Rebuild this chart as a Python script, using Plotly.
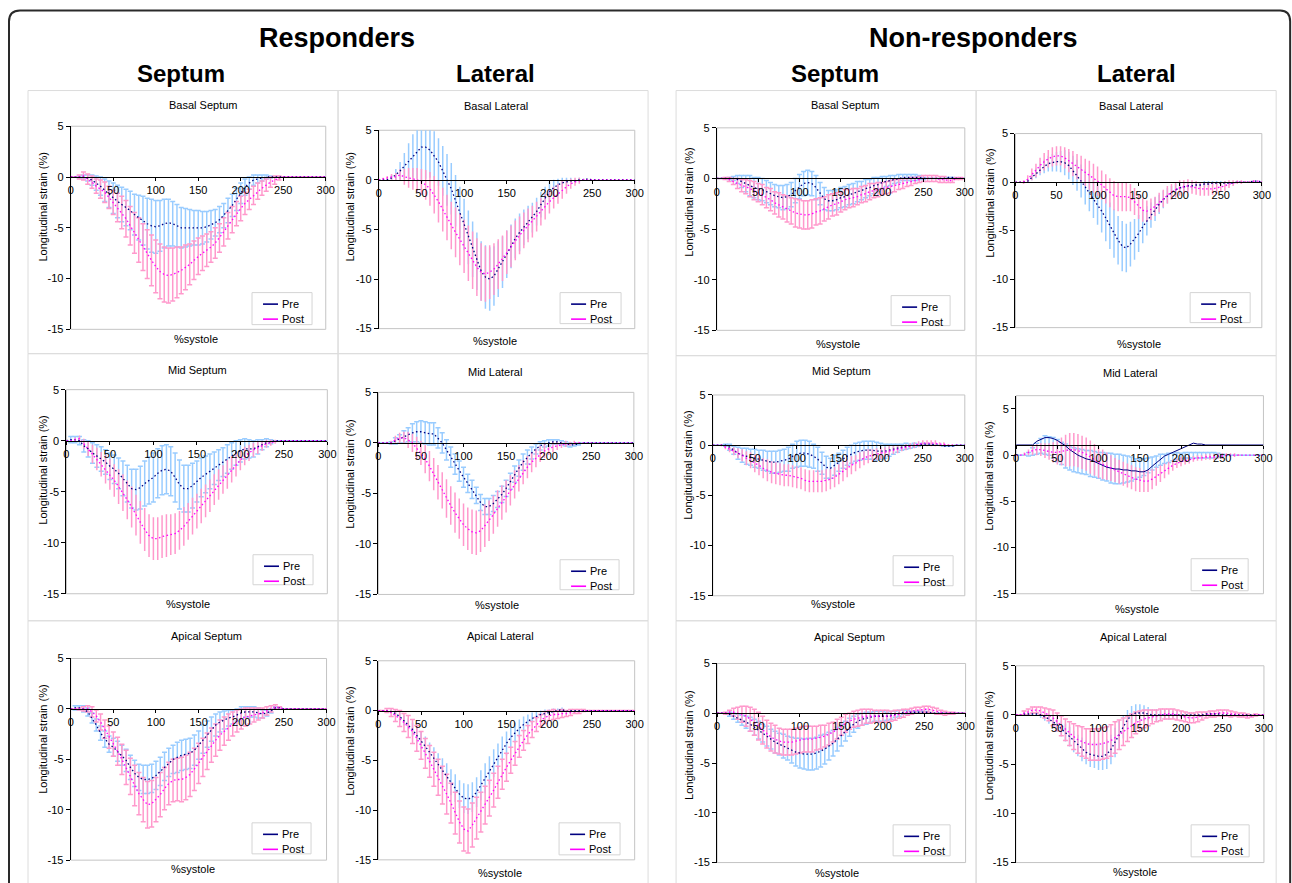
import plotly.graph_objects as go

# ---------------- data (x = 0,5,...,300 %systole) ----------------
X = list(range(0, 301, 5))
XTICKS = [0, 50, 100, 150, 200, 250, 300]
YTICKS = [-15, -10, -5, 0, 5]
YTICKTEXT = ["-15", "-10", "-5", "0", "5"]

# Responders - Basal Septum
R_BS_PRE_MEAN = [0,0,0,0,-0.1,-0.3,-0.6,-0.9,-1.3,-1.7,
 -2.1,-2.4,-2.7,-3.0,-3.3,-3.7,-4.0,-4.3,-4.6,-4.8,
 -4.9,-4.8,-4.6,-4.5,-4.6,-4.8,-5.0,-5.0,-5.0,-5.0,
 -5.0,-5.0,-4.9,-4.7,-4.5,-4.2,-3.8,-3.3,-2.8,-2.2,
 -1.6,-1.0,-0.6,-0.3,-0.2,-0.1,0,0,0,0,
 0,0,0,0,0,0,0,0,0,0,0]
R_BS_PRE_SD = [0,0,0.1,0.2,0.3,0.5,0.7,0.9,1.1,1.3,
 1.5,1.6,1.7,1.8,1.9,2.0,2.2,2.4,2.5,2.6,
 2.6,2.5,2.4,2.3,2.2,2.1,2.0,1.9,1.8,1.7,
 1.7,1.6,1.5,1.4,1.3,1.3,1.2,1.2,1.1,1.1,
 1.0,0.8,0.6,0.5,0.4,0.3,0.2,0.1,0,0,
 0,0,0,0,0,0,0,0,0,0,0]
R_BS_POST_MEAN = [0,0,0,0.1,-0.2,-0.5,-0.9,-1.2,-1.5,-2.0,
 -2.5,-3.0,-3.5,-4.1,-4.8,-5.5,-6.2,-6.9,-7.6,-8.2,
 -8.8,-9.3,-9.6,-9.7,-9.6,-9.4,-9.2,-8.9,-8.6,-8.2,
 -7.8,-7.5,-7.2,-6.9,-6.5,-6.0,-5.4,-4.8,-4.2,-3.6,
 -3.1,-2.6,-2.2,-1.8,-1.4,-1.1,-0.8,-0.5,-0.3,-0.1,
 0,0,0,0,0,0,0,0,0,0,0]
R_BS_POST_SD = [0,0,0.2,0.4,0.5,0.6,0.7,0.9,1.0,1.1,
 1.2,1.4,1.6,1.8,1.9,2.0,2.2,2.3,2.4,2.5,
 2.6,2.7,2.7,2.7,2.6,2.5,2.3,2.2,2.0,1.9,
 1.8,1.7,1.6,1.5,1.5,1.4,1.4,1.3,1.3,1.2,
 1.2,1.1,1.0,0.9,0.8,0.7,0.6,0.5,0.4,0.2,
 0,0,0,0,0,0,0,0,0,0,0]

# Responders - Basal Lateral
R_BL_PRE_MEAN = [0,0,0,0.2,0.5,0.9,1.4,1.9,2.4,2.9,
 3.3,3.3,3.0,2.4,1.8,0.9,0,-0.9,-2.1,-3.3,
 -4.5,-5.8,-7.0,-8.2,-9.2,-9.8,-10.0,-9.7,-9.0,-8.3,
 -7.5,-6.7,-5.9,-5.3,-4.8,-4.3,-3.8,-3.2,-2.5,-1.8,
 -1.2,-0.8,-0.5,-0.3,-0.2,-0.1,-0.1,0,0,0.1,
 0,0,0,0,0,0,0,0,0,0,0]
R_BL_PRE_SD = [0,0,0.1,0.3,0.6,0.9,1.3,1.8,2.2,2.8,
 3.5,3.2,2.8,2.5,2.4,2.5,2.6,2.6,2.6,2.6,
 2.6,2.7,2.8,2.9,3.0,3.2,3.2,3.0,2.8,2.6,
 2.4,2.2,2.0,1.9,1.8,1.7,1.5,1.4,1.3,1.1,
 1.0,0.8,0.6,0.5,0.4,0.3,0.2,0.2,0.1,0,
 0,0,0,0,0,0,0,0,0,0,0]
R_BL_POST_MEAN = [0,0.1,0.2,0.3,0.3,0.5,0.3,0.2,0.1,0,
 -0.2,-0.5,-0.9,-1.5,-2.2,-3.0,-3.8,-4.6,-5.3,-6.0,
 -6.7,-7.4,-8.1,-8.8,-9.3,-9.5,-9.3,-9.0,-8.5,-7.9,
 -7.3,-6.7,-6.1,-5.6,-5.1,-4.6,-4.2,-3.7,-3.2,-2.7,
 -2.2,-1.8,-1.4,-1.0,-0.7,-0.4,-0.2,-0.1,0,0,
 0,0,0,0,0,0,0,0,0,0,0]
R_BL_POST_SD = [0,0.1,0.2,0.3,0.4,0.6,0.8,1.0,1.1,1.2,
 1.3,1.5,1.7,1.9,2.1,2.2,2.3,2.4,2.5,2.6,
 2.7,2.8,2.9,2.9,2.9,2.8,2.7,2.6,2.5,2.3,
 2.2,2.1,2.0,1.9,1.8,1.7,1.6,1.5,1.4,1.3,
 1.2,1.1,1.0,0.9,0.7,0.5,0.4,0.3,0.1,0,
 0,0,0,0,0,0,0,0,0,0,0]

# Responders - Mid Septum
R_MS_PRE_MEAN = [0,0.1,0.1,0,-0.5,-0.8,-1.2,-1.5,-1.8,-2.1,
 -2.5,-2.8,-3.2,-3.7,-4.2,-4.7,-4.8,-4.6,-4.2,-3.9,
 -3.6,-3.2,-2.9,-2.8,-3.0,-3.6,-4.3,-4.7,-4.7,-4.4,
 -4.0,-3.6,-3.3,-3.0,-2.7,-2.4,-2.1,-1.8,-1.5,-1.2,
 -1.0,-0.8,-0.8,-0.8,-0.6,-0.4,-0.2,-0.1,0,0,
 0,0,0,0,0,0,0,0,0,0,0]
R_MS_PRE_SD = [0,0.3,0.3,0.4,0.6,0.8,1.0,1.1,1.2,1.2,
 1.3,1.4,1.5,1.7,1.8,1.9,2.0,2.1,2.2,2.3,
 2.4,2.4,2.4,2.4,2.4,2.4,2.4,2.3,2.3,2.2,
 2.0,1.9,1.8,1.7,1.6,1.5,1.4,1.4,1.3,1.2,
 1.1,1.0,0.9,0.8,0.7,0.5,0.4,0.2,0,0,
 0,0,0,0,0,0,0,0,0,0,0]
R_MS_POST_MEAN = [0,0,0.1,0.2,-0.3,-0.8,-1.3,-1.8,-2.3,-2.8,
 -3.3,-3.9,-4.5,-5.1,-5.8,-6.5,-7.3,-8.0,-8.7,-9.3,
 -9.6,-9.6,-9.4,-9.3,-9.2,-9.1,-8.8,-8.4,-7.9,-7.4,
 -6.9,-6.4,-5.9,-5.4,-4.8,-4.3,-3.8,-3.3,-2.8,-2.3,
 -1.9,-1.5,-1.2,-0.9,-0.7,-0.5,-0.3,-0.2,-0.1,0,
 0,0,0,0,0,0,0,0,0,0,0]
R_MS_POST_SD = [0,0,0.2,0.3,0.5,0.7,0.9,1.1,1.2,1.4,
 1.5,1.6,1.7,1.8,1.9,2.0,2.0,2.1,2.1,2.1,
 2.1,2.1,2.1,2.1,2.0,2.0,1.9,1.9,1.8,1.8,
 1.7,1.7,1.6,1.6,1.5,1.5,1.4,1.4,1.3,1.2,
 1.0,0.9,0.8,0.7,0.6,0.5,0.4,0.3,0.2,0,
 0,0,0,0,0,0,0,0,0,0,0]

# Responders - Mid Lateral
R_ML_PRE_MEAN = [0,0,0,0,0.2,0.4,0.6,0.8,1.0,1.1,
 1.1,1.0,0.9,0.9,0.5,0,-0.7,-1.4,-2.1,-2.8,
 -3.4,-4.0,-4.6,-5.2,-5.9,-6.3,-6.3,-6.0,-5.6,-5.1,
 -4.5,-3.8,-3.1,-2.5,-1.9,-1.4,-1.0,-0.6,-0.3,-0.1,
 0,0.1,0.1,0,-0.1,-0.2,-0.2,-0.1,0,0,
 0,0,0,0,0,0,0,0,0,0,0]
R_ML_PRE_SD = [0,0,0,0.1,0.3,0.4,0.6,0.7,0.9,1.0,
 1.1,1.1,1.1,1.1,1.0,1.0,1.0,1.0,1.0,1.0,
 1.0,0.9,0.9,0.8,0.8,0.8,0.8,0.8,0.8,0.8,
 0.8,0.8,0.8,0.8,0.8,0.7,0.6,0.5,0.4,0.3,
 0.3,0.2,0.2,0.2,0.2,0.2,0.1,0.1,0,0,
 0,0,0,0,0,0,0,0,0,0,0]
R_ML_POST_MEAN = [0,0,0,0,0.3,0.5,0.5,0.3,0,-0.5,
 -1.0,-1.6,-2.3,-3.1,-3.9,-4.7,-5.5,-6.2,-6.9,-7.5,
 -8.1,-8.5,-8.8,-8.9,-8.7,-8.2,-7.7,-7.1,-6.5,-5.9,
 -5.3,-4.7,-4.1,-3.5,-2.9,-2.4,-1.9,-1.5,-1.1,-0.8,
 -0.6,-0.4,-0.3,-0.2,-0.1,-0.1,0,0,0,0,
 0,0,0,0,0,0,0,0,0,0,0]
R_ML_POST_SD = [0,0,0.1,0.2,0.4,0.5,0.6,0.8,0.9,1.1,
 1.2,1.4,1.5,1.6,1.7,1.8,1.9,1.9,2.0,2.0,
 2.1,2.1,2.2,2.2,2.1,2.1,2.0,1.9,1.8,1.7,
 1.6,1.5,1.4,1.3,1.2,1.1,1.0,0.9,0.8,0.7,
 0.6,0.5,0.4,0.3,0.3,0.2,0.2,0.1,0,0,
 0,0,0,0,0,0,0,0,0,0,0]

# Responders - Apical Septum
R_AS_PRE_MEAN = [0,0.1,0.1,0,-0.3,-0.9,-1.6,-2.4,-3.0,-3.5,
 -3.8,-4.2,-4.6,-5.1,-5.8,-6.4,-6.8,-7.0,-7.0,-6.9,
 -6.6,-6.2,-5.7,-5.3,-5.0,-4.8,-4.6,-4.5,-4.4,-4.1,
 -3.6,-3.0,-2.5,-2.0,-1.6,-1.3,-1.1,-0.9,-0.8,-0.6,
 -0.4,-0.3,-0.3,-0.3,-0.4,-0.5,-0.4,-0.2,0.1,0.1,
 0,0,0,0,0,0,0,0,0,0,0]
R_AS_PRE_SD = [0,0.2,0.2,0.3,0.4,0.5,0.6,0.7,0.8,0.8,
 0.9,1.0,1.0,1.1,1.2,1.3,1.3,1.4,1.4,1.4,
 1.4,1.4,1.4,1.4,1.4,1.5,1.5,1.5,1.5,1.5,
 1.4,1.4,1.3,1.2,1.1,1.0,0.9,0.8,0.7,0.6,
 0.6,0.5,0.5,0.5,0.5,0.4,0.3,0.2,0.1,0,
 0,0,0,0,0,0,0,0,0,0,0]
R_AS_POST_MEAN = [0,0,0,0,0,-0.3,-0.7,-1.3,-2.0,-2.8,
 -3.5,-4.2,-5.0,-5.8,-6.7,-7.6,-8.4,-9.0,-9.5,-9.4,
 -9.0,-8.5,-7.9,-7.4,-7.1,-7.0,-7.0,-6.8,-6.5,-6.0,
 -5.4,-4.8,-4.2,-3.6,-3.1,-2.6,-2.2,-1.8,-1.5,-1.2,
 -1.0,-0.8,-0.7,-0.6,-0.5,-0.4,-0.2,0,0.2,0.1,
 0,0,0,0,0,0,0,0,0,0,0]
R_AS_POST_SD = [0,0,0.1,0.2,0.3,0.5,0.6,0.8,0.9,1.1,
 1.2,1.4,1.5,1.7,1.8,2.0,2.1,2.2,2.3,2.3,
 2.2,2.2,2.1,2.1,2.1,2.1,2.2,2.2,2.2,2.1,
 2.0,1.9,1.8,1.7,1.6,1.5,1.4,1.3,1.2,1.1,
 1.0,0.9,0.8,0.7,0.6,0.5,0.4,0.3,0.2,0.1,
 0,0,0,0,0,0,0,0,0,0,0]

# Responders - Apical Lateral
R_AL_PRE_MEAN = [0,0,0,-0.1,-0.3,-0.6,-1.0,-1.4,-1.9,-2.5,
 -3.0,-3.6,-4.2,-4.8,-5.4,-6.0,-6.6,-7.2,-7.8,-8.4,
 -8.8,-8.9,-8.7,-8.2,-7.5,-6.8,-6.0,-5.3,-4.6,-3.9,
 -3.3,-2.7,-2.2,-1.8,-1.4,-1.1,-0.8,-0.6,-0.4,-0.3,
 -0.2,-0.1,0,0.1,-0.1,0,0,0,0,0,
 0,0,0,0,0,0,0,0,0,0,0]
R_AL_PRE_SD = [0,0,0.1,0.2,0.3,0.4,0.5,0.6,0.7,0.8,
 0.9,1.0,1.0,1.1,1.1,1.2,1.3,1.3,1.4,1.4,
 1.5,1.5,1.5,1.5,1.5,1.5,1.4,1.4,1.3,1.3,
 1.2,1.1,1.0,0.9,0.8,0.7,0.6,0.5,0.4,0.4,
 0.3,0.3,0.2,0.2,0.1,0.1,0,0,0,0,
 0,0,0,0,0,0,0,0,0,0,0]
R_AL_POST_MEAN = [0,0,0,-0.2,-0.5,-0.8,-1.2,-1.6,-2.1,-2.8,
 -3.5,-4.3,-5.1,-5.9,-6.7,-7.5,-8.4,-9.3,-10.3,-11.2,
 -11.9,-12.1,-11.5,-10.8,-10.2,-9.5,-8.8,-8.0,-7.2,-6.4,
 -5.7,-5.0,-4.3,-3.6,-3.0,-2.4,-1.9,-1.4,-1.0,-0.7,
 -0.5,-0.4,-0.4,-0.3,-0.3,-0.2,-0.1,-0.1,0,0,
 0,0,0,0,0,0,0,0,0,0,0]
R_AL_POST_SD = [0,0,0.2,0.4,0.6,0.8,0.9,1.1,1.2,1.3,
 1.4,1.5,1.6,1.7,1.8,1.9,2.0,2.0,2.1,2.1,
 2.2,2.2,2.2,2.1,2.0,1.9,1.8,1.7,1.6,1.5,
 1.4,1.3,1.2,1.1,1.0,0.9,0.8,0.7,0.6,0.6,
 0.5,0.5,0.4,0.4,0.3,0.3,0.2,0.2,0.1,0,
 0,0,0,0,0,0,0,0,0,0,0]

# Non-responders - Basal Septum
N_BS_PRE_MEAN = [0,0,0,0,0,-0.1,-0.3,-0.5,-0.7,-0.9,
 -1.0,-1.1,-1.3,-1.5,-1.7,-1.8,-1.9,-1.8,-1.6,-1.2,
 -0.8,-0.5,-0.4,-0.5,-0.9,-1.5,-2.0,-2.2,-2.2,-2.1,
 -1.9,-1.8,-1.6,-1.5,-1.3,-1.2,-1.0,-0.9,-0.7,-0.6,
 -0.4,-0.3,-0.2,-0.1,0,0.1,0.1,0.1,0.1,0.1,
 0,0,0,0,0,0,0.1,0.1,0,0,0]
N_BS_PRE_SD = [0,0,0,0.1,0.2,0.4,0.6,0.8,1.0,1.0,
 1.1,1.1,1.1,1.1,1.1,1.1,1.2,1.2,1.2,1.2,
 1.2,1.2,1.2,1.2,1.2,1.1,1.1,1.0,1.0,1.0,
 1.0,1.0,1.0,1.0,1.0,0.9,0.9,0.8,0.8,0.7,
 0.6,0.5,0.5,0.4,0.4,0.3,0.3,0.3,0.3,0.2,
 0.1,0,0,0,0,0,0,0,0,0,0]
N_BS_POST_MEAN = [0,0,0,-0.1,-0.3,-0.5,-0.7,-0.8,-1.0,-1.2,
 -1.4,-1.6,-1.9,-2.1,-2.4,-2.6,-2.8,-3.0,-3.2,-3.4,
 -3.5,-3.6,-3.6,-3.5,-3.3,-3.2,-3.0,-2.8,-2.6,-2.5,
 -2.3,-2.1,-2.0,-1.9,-1.8,-1.6,-1.5,-1.3,-1.2,-1.1,
 -1.0,-0.9,-0.8,-0.7,-0.6,-0.5,-0.4,-0.3,-0.2,-0.1,
 0,0,0,0,-0.1,-0.1,-0.2,-0.2,0,0,0]
N_BS_POST_SD = [0,0,0.1,0.2,0.3,0.5,0.6,0.7,0.8,0.9,
 0.9,1.0,1.0,1.1,1.1,1.2,1.2,1.3,1.3,1.4,
 1.4,1.4,1.4,1.4,1.3,1.3,1.2,1.2,1.1,1.1,
 1.0,1.0,0.9,0.9,0.8,0.8,0.8,0.8,0.7,0.7,
 0.6,0.6,0.6,0.6,0.5,0.5,0.4,0.4,0.3,0.3,
 0.3,0.3,0.3,0.3,0.3,0.3,0.2,0.2,0.1,0.1,0]

# Non-responders - Basal Lateral
N_BL_PRE_MEAN = [0,0,0,0.1,0.5,0.9,1.3,1.6,1.9,2.0,
 2.1,2.1,2.0,1.7,1.2,0.7,0.1,-0.5,-1.1,-1.7,
 -2.3,-3.0,-3.7,-4.5,-5.3,-6.0,-6.6,-6.8,-6.4,-5.9,
 -5.3,-4.6,-4.0,-3.4,-2.8,-2.3,-1.8,-1.4,-1.1,-0.8,
 -0.6,-0.5,-0.4,-0.4,-0.3,-0.3,-0.2,-0.2,-0.1,-0.1,
 -0.1,-0.1,-0.1,-0.1,0,0,0,0,0.1,0.1,0]
N_BL_PRE_SD = [0,0,0,0.2,0.3,0.5,0.6,0.7,0.8,0.9,
 1.0,1.1,1.3,1.4,1.5,1.6,1.7,1.8,1.9,2.0,
 2.1,2.2,2.4,2.4,2.5,2.5,2.6,2.5,2.3,2.1,
 1.9,1.7,1.5,1.3,1.2,1.0,0.9,0.8,0.7,0.6,
 0.5,0.5,0.4,0.4,0.3,0.3,0.3,0.3,0.2,0.2,
 0.2,0.2,0.1,0.1,0.1,0,0,0,0,0,0]
N_BL_POST_MEAN = [0,0,0,0.3,0.8,1.2,1.7,2.1,2.4,2.6,
 2.7,2.7,2.5,2.2,1.9,1.6,1.3,1.0,0.7,0.4,
 0.1,-0.3,-0.7,-1.1,-1.4,-1.5,-1.5,-1.5,-1.6,-2.0,
 -2.5,-2.9,-3.0,-2.8,-2.5,-2.1,-1.7,-1.3,-1.0,-0.8,
 -0.6,-0.5,-0.4,-0.5,-0.6,-0.7,-0.7,-0.7,-0.7,-0.6,
 -0.5,-0.4,-0.2,-0.1,0,0,0,0,0.1,0.1,0]
N_BL_POST_SD = [0,0,0.2,0.4,0.6,0.7,0.8,0.9,0.9,1.0,
 1.0,1.0,1.1,1.2,1.3,1.3,1.4,1.4,1.5,1.5,
 1.5,1.5,1.5,1.5,1.5,1.5,1.5,1.5,1.4,1.4,
 1.3,1.2,1.1,1.1,1.0,1.0,0.9,0.9,0.8,0.8,
 0.8,0.7,0.7,0.7,0.7,0.7,0.7,0.7,0.6,0.6,
 0.5,0.5,0.4,0.3,0.2,0.2,0.1,0.1,0.1,0,0]

# Non-responders - Mid Septum
N_MS_PRE_MEAN = [0,0,0,0,-0.2,-0.5,-0.8,-1.0,-1.1,-1.2,
 -1.3,-1.4,-1.5,-1.6,-1.7,-1.7,-1.6,-1.5,-1.4,-1.1,
 -0.9,-0.8,-0.8,-0.9,-1.1,-1.4,-1.8,-2.2,-2.3,-2.0,
 -1.7,-1.4,-1.1,-0.9,-0.7,-0.6,-0.5,-0.5,-0.5,-0.6,
 -0.6,-0.6,-0.5,-0.4,-0.3,-0.2,-0.1,-0.1,0,0,
 0.1,0.1,0.1,0,0,-0.1,-0.1,-0.1,0,0,0]
N_MS_PRE_SD = [0,0,0,0.1,0.3,0.4,0.6,0.7,0.8,0.8,
 0.9,0.9,1.0,1.0,1.1,1.1,1.1,1.1,1.2,1.2,
 1.3,1.3,1.3,1.3,1.2,1.2,1.1,1.1,1.0,1.0,
 0.9,0.9,0.9,0.9,0.9,0.9,0.9,0.9,0.9,0.9,
 0.8,0.7,0.6,0.5,0.4,0.3,0.3,0.2,0.2,0.1,
 0.1,0,0,0,0,0,0,0,0,0,0]
N_MS_POST_MEAN = [0,0,0,-0.2,-0.4,-0.6,-0.8,-1.0,-1.3,-1.5,
 -1.8,-2.0,-2.3,-2.5,-2.7,-2.8,-2.9,-3.0,-3.0,-3.1,
 -3.2,-3.3,-3.5,-3.6,-3.6,-3.6,-3.6,-3.5,-3.4,-3.2,
 -2.9,-2.6,-2.3,-2.0,-1.8,-1.5,-1.3,-1.1,-1.0,-0.9,
 -0.8,-0.7,-0.6,-0.5,-0.4,-0.3,-0.2,-0.1,0,0.1,
 0.2,0.2,0.2,0.2,0.1,0.1,0,0,0,0,0]
N_MS_POST_SD = [0,0,0.1,0.2,0.3,0.4,0.5,0.6,0.7,0.8,
 0.9,1.0,1.0,1.1,1.1,1.1,1.1,1.1,1.1,1.1,
 1.1,1.1,1.1,1.1,1.1,1.1,1.1,1.1,1.0,1.0,
 1.0,1.0,0.9,0.9,0.8,0.8,0.7,0.7,0.6,0.6,
 0.6,0.5,0.5,0.4,0.4,0.3,0.3,0.3,0.3,0.3,
 0.3,0.3,0.3,0.3,0.2,0.2,0.1,0.1,0,0,0]

# Non-responders - Mid Lateral (Pre curve drawn shifted; bars centred separately)
N_ML_PRE_MEAN = [1.1,1.1,1.1,1.1,1.1,1.5,1.7,1.9,1.9,1.8,
 1.6,1.3,1.0,0.6,0.3,0,-0.2,-0.4,-0.5,-0.7,
 -0.9,-1.1,-1.3,-1.4,-1.5,-1.5,-1.6,-1.6,-1.7,-1.7,
 -1.8,-1.8,-1.6,-1.2,-0.8,-0.4,-0.1,0.1,0.3,0.5,
 0.7,0.9,1.1,1.3,1.2,1.2,1.1,1.1,1.1,1.1,
 1.1,1.1,1.1,1.1,1.1,1.1,1.1,1.1,1.1,1.1,1.1]
N_ML_PRE_BAR_CENTER = [0,0,0,0.1,0.4,0.7,1.0,1.1,1.0,0.8,
 0.5,0.2,-0.1,-0.3,-0.5,-0.6,-0.7,-0.8,-0.9,-1.0,
 -1.1,-1.2,-1.3,-1.4,-1.5,-1.5,-1.5,-1.5,-1.5,-1.5,
 -1.4,-1.3,-1.1,-0.9,-0.7,-0.5,-0.4,-0.3,-0.2,-0.1,
 -0.1,0,0,0,0,0,0,0,0,0,
 0,0,0,0,0,0,0,0,0,0,0]
N_ML_PRE_SD = [0,0,0,0.2,0.4,0.6,0.8,1.0,1.0,1.1,
 1.2,1.2,1.3,1.3,1.3,1.3,1.3,1.3,1.4,1.4,
 1.4,1.5,1.5,1.6,1.6,1.6,1.5,1.4,1.3,1.1,
 1.0,0.9,0.8,0.7,0.6,0.6,0.5,0.5,0.4,0.4,
 0.3,0.3,0.3,0.3,0.3,0.3,0.3,0.3,0.3,0.2,
 0.1,0,0,0,0,0,0,0,0,0,0]
N_ML_POST_MEAN = [0,0,0.1,0.3,0.5,0.6,0.6,0.5,0.4,0.3,
 0.3,0.4,0.5,0.6,0.6,0.5,0.3,0.1,-0.2,-0.5,
 -0.8,-1.0,-1.2,-1.4,-1.6,-1.8,-2.0,-2.2,-2.4,-2.6,
 -2.7,-2.8,-2.8,-2.6,-2.3,-2.0,-1.7,-1.4,-1.1,-0.9,
 -0.7,-0.6,-0.5,-0.4,-0.3,-0.3,-0.2,-0.2,-0.2,-0.1,
 -0.1,0,0,0,0,0,0,0,0,0,0]
N_ML_POST_SD = [0,0,0.2,0.3,0.5,0.6,0.7,0.8,0.9,1.1,
 1.3,1.5,1.7,1.8,1.8,1.8,1.8,1.8,1.8,1.7,
 1.7,1.6,1.5,1.4,1.3,1.3,1.3,1.3,1.3,1.3,
 1.3,1.2,1.2,1.1,1.0,0.9,0.8,0.7,0.6,0.5,
 0.5,0.4,0.4,0.3,0.3,0.3,0.3,0.3,0.3,0.3,
 0.3,0.2,0.2,0.2,0.1,0,0,0,0,0,0]

# Non-responders - Apical Septum
N_AS_PRE_MEAN = [0,0,0,-0.1,-0.3,-0.5,-0.7,-0.9,-1.1,-1.4,
 -1.7,-2.0,-2.3,-2.6,-2.9,-3.1,-3.3,-3.5,-3.7,-3.9,
 -4.0,-4.1,-4.1,-4.1,-4.0,-3.8,-3.6,-3.3,-3.0,-2.6,
 -2.2,-1.8,-1.4,-1.1,-0.8,-0.6,-0.5,-0.4,-0.3,-0.3,
 -0.3,-0.3,-0.2,-0.1,0,0.1,0.1,0.1,0.1,0.1,
 0.1,0.1,0,0,0,0,0,0,0,0,0]
N_AS_PRE_SD = [0,0,0,0.2,0.3,0.4,0.5,0.6,0.7,0.8,
 0.9,0.9,1.0,1.0,1.1,1.1,1.2,1.2,1.3,1.4,
 1.5,1.5,1.6,1.6,1.6,1.6,1.5,1.4,1.3,1.2,
 1.1,1.0,0.9,0.8,0.7,0.6,0.6,0.5,0.5,0.5,
 0.5,0.4,0.4,0.3,0.3,0.2,0.2,0.1,0.1,0.1,
 0.1,0,0,0,0,0,0,0,0,0,0]
N_AS_POST_MEAN = [0,0,0,0.1,0.1,0,-0.1,-0.3,-0.6,-0.9,
 -1.3,-1.7,-2.1,-2.4,-2.6,-2.8,-2.9,-2.9,-2.9,-2.8,
 -2.7,-2.6,-2.6,-2.6,-2.5,-2.4,-2.3,-2.1,-1.9,-1.6,
 -1.3,-1.0,-0.8,-0.6,-0.5,-0.4,-0.3,-0.3,-0.3,-0.3,
 -0.3,-0.3,-0.3,-0.2,-0.1,0,0.1,0.2,0.3,0.3,
 0.4,0.4,0.3,0.2,0.1,0,0,0,0,0,0]
N_AS_POST_SD = [0,0,0.1,0.2,0.4,0.6,0.8,1.0,1.2,1.3,
 1.4,1.4,1.4,1.4,1.4,1.3,1.3,1.3,1.3,1.3,
 1.3,1.3,1.3,1.3,1.2,1.2,1.1,1.1,1.0,1.0,
 0.9,0.9,0.8,0.8,0.8,0.8,0.7,0.7,0.6,0.6,
 0.6,0.6,0.5,0.5,0.4,0.4,0.3,0.3,0.3,0.3,
 0.3,0.3,0.3,0.3,0.2,0.2,0.1,0.1,0,0,0]

# Non-responders - Apical Lateral
N_AL_PRE_MEAN = [0,0,0.1,0.1,0.1,0.1,0,-0.2,-0.4,-0.7,
 -1.0,-1.4,-1.8,-2.2,-2.7,-3.1,-3.5,-3.8,-4.0,-4.1,
 -4.2,-4.2,-4.0,-3.5,-2.8,-2.0,-1.2,-0.5,0,0.2,
 0.2,0.2,0.1,0,0,0,0,0,0,0,
 0,0,0,0,0,0,0.1,0.1,0.1,0.1,
 0,0,0,0,0,0,0,0,0,0,0]
N_AL_PRE_SD = [0,0,0.1,0.1,0.2,0.2,0.3,0.4,0.5,0.6,
 0.7,0.8,0.9,1.0,1.1,1.1,1.2,1.2,1.3,1.3,
 1.4,1.4,1.5,1.5,1.5,1.4,1.2,1.0,0.9,0.9,
 0.9,0.8,0.7,0.6,0.6,0.5,0.5,0.5,0.4,0.4,
 0.3,0.3,0.3,0.3,0.2,0.2,0.2,0.2,0.1,0.1,
 0.1,0,0,0,0,0,0,0,0,0,0]
N_AL_POST_MEAN = [0,0,0.2,0.3,0.5,0.5,0.4,0.2,0,-0.3,
 -0.7,-1.1,-1.5,-1.9,-2.2,-2.5,-2.7,-2.9,-3.0,-3.0,
 -3.0,-2.9,-2.8,-2.6,-2.3,-2.0,-1.7,-1.4,-1.1,-0.8,
 -0.6,-0.4,-0.3,-0.2,-0.1,0,0.1,0.1,0.1,0,
 -0.1,-0.2,-0.3,-0.3,-0.2,-0.1,0,0.1,0.1,0.2,
 0.2,0.2,0.1,0.1,0,0,-0.1,-0.1,0,0,0]
N_AL_POST_SD = [0,0,0.2,0.3,0.3,0.3,0.4,0.5,0.6,0.8,
 0.9,1.0,1.1,1.2,1.3,1.4,1.5,1.5,1.6,1.6,
 1.6,1.6,1.6,1.6,1.6,1.5,1.4,1.3,1.2,1.1,
 1.0,0.9,0.8,0.7,0.6,0.6,0.5,0.5,0.5,0.5,
 0.5,0.5,0.5,0.5,0.5,0.4,0.3,0.3,0.3,0.3,
 0.3,0.3,0.3,0.2,0.2,0.2,0.2,0.1,0.1,0,0]

# ---------------- layout (pixel geometry of the target picture) ----------------
W, H = 1292, 883
# observed mapping of the capture: picture = S * page + O  -> invert it
SX, OX = 0.9906, 3.0
SY, OY = 0.986, 5.5
FONT = "Liberation Sans, Arial, sans-serif"
NAVY = "#000080"
MAGENTA = "#ff00ff"
BLUE_BAR = "#99ccff"
PINK_BAR = "#ff99cc"
DOT = "1.5px,2.5px"


def fx(px):
    return ((px - OX) / SX) / W


def fy(py):
    return 1 - ((py - OY) / SY) / H


PANELS = [
    dict(title="Basal Septum", plot=(70.7, 325.7, 125.7, 328.7), ymax=5, axis_at=0,
         t=(203, 104.7), xl=(196, 338), yl=(43, 207), leg=(252, 292, 312, 324), caps=(2.5, 2.5),
         pre=(R_BS_PRE_MEAN, R_BS_PRE_SD), post=(R_BS_POST_MEAN, R_BS_POST_SD)),
    dict(title="Basal Lateral", plot=(378.7, 634.7, 129.7, 328), ymax=5, axis_at=0,
         t=(496, 105), xl=(495, 340), yl=(350, 207), leg=(560, 292, 621, 323), caps=(0, 0),
         pre=(R_BL_PRE_MEAN, R_BL_PRE_SD), post=(R_BL_POST_MEAN, R_BL_POST_SD)),
    dict(title="Mid Septum", plot=(66.4, 327.3, 389, 593), ymax=5, axis_at=0,
         t=(197, 369.7), xl=(188, 603), yl=(43, 470), leg=(253, 554, 313, 584), caps=(2.5, 0),
         pre=(R_MS_PRE_MEAN, R_MS_PRE_SD), post=(R_MS_POST_MEAN, R_MS_POST_SD)),
    dict(title="Mid Lateral", plot=(378.3, 633.8, 391.7, 593.7), ymax=5, axis_at=0,
         t=(495, 371.3), xl=(497, 604), yl=(350, 474), leg=(560, 559, 619, 589), caps=(2.5, 0),
         pre=(R_ML_PRE_MEAN, R_ML_PRE_SD), post=(R_ML_POST_MEAN, R_ML_POST_SD)),
    dict(title="Apical Septum", plot=(70.7, 326.5, 657.7, 859.3), ymax=5, axis_at=0,
         t=(206, 635), xl=(193, 868), yl=(43, 739), leg=(252, 822, 311, 853), caps=(2.5, 2.5),
         pre=(R_AS_PRE_MEAN, R_AS_PRE_SD), post=(R_AS_POST_MEAN, R_AS_POST_SD)),
    dict(title="Apical Lateral", plot=(378.3, 634.6, 660, 859), ymax=5, axis_at=0,
         t=(500, 635), xl=(500, 872), yl=(350, 741), leg=(559, 822, 620, 854), caps=(0, 2.5),
         pre=(R_AL_PRE_MEAN, R_AL_PRE_SD), post=(R_AL_POST_MEAN, R_AL_POST_SD)),
    dict(title="Basal Septum", plot=(716.7, 964.7, 127.3, 329.7), ymax=5, axis_at=0,
         t=(845, 104.7), xl=(838, 343.5), yl=(689, 202), leg=(891, 295, 950, 325), caps=(2.5, 2.5),
         pre=(N_BS_PRE_MEAN, N_BS_PRE_SD), post=(N_BS_POST_MEAN, N_BS_POST_SD)),
    dict(title="Basal Lateral", plot=(1015.3, 1261.7, 133, 327), ymax=5, axis_at=0,
         t=(1131, 105), xl=(1139, 343), yl=(989, 203), leg=(1190, 292, 1250, 322), caps=(0, 0),
         pre=(N_BL_PRE_MEAN, N_BL_PRE_SD), post=(N_BL_POST_MEAN, N_BL_POST_SD)),
    dict(title="Mid Septum", plot=(712.7, 964.7, 394.3, 595), ymax=5, axis_at=0,
         t=(841, 370.7), xl=(833, 603), yl=(688, 465), leg=(893, 555, 953, 585), caps=(2.5, 0),
         pre=(N_MS_PRE_MEAN, N_MS_PRE_SD), post=(N_MS_POST_MEAN, N_MS_POST_SD)),
    dict(title="Mid Lateral", plot=(1016, 1263.3, 395, 593), ymax=6.44, axis_at=1.08,
         t=(1130, 372.3), xl=(1137, 608), yl=(989, 476), leg=(1191, 558, 1248, 590), caps=(2.5, 0),
         pre=(N_ML_PRE_MEAN, N_ML_PRE_SD), post=(N_ML_POST_MEAN, N_ML_POST_SD),
         pre_center=N_ML_PRE_BAR_CENTER, pre_solid=True),
    dict(title="Apical Septum", plot=(717, 965.5, 662.7, 861.7), ymax=5, axis_at=0,
         t=(849, 636), xl=(837, 872), yl=(689, 745), leg=(893, 824, 950, 855), caps=(2.5, 2.5),
         pre=(N_AS_PRE_MEAN, N_AS_PRE_SD), post=(N_AS_POST_MEAN, N_AS_POST_SD)),
    dict(title="Apical Lateral", plot=(1015.7, 1263.8, 665, 861.7), ymax=5, axis_at=0,
         t=(1133, 636), xl=(1135, 871), yl=(988.5, 745), leg=(1191, 824, 1249, 856), caps=(0, 2.5),
         pre=(N_AL_PRE_MEAN, N_AL_PRE_SD), post=(N_AL_POST_MEAN, N_AL_POST_SD)),
]

fig = go.Figure()
layout_axes = {}
shapes = []
annotations = []


def ann(text, x, y, size=11, angle=0, xanchor="center", bold=False):
    annotations.append(dict(
        text=f"<b>{text}</b>" if bold else text, x=fx(x), y=fy(y), xref="paper", yref="paper",
        showarrow=False, xanchor=xanchor, yanchor="middle", textangle=angle,
        font=dict(family=FONT, size=size, color="black")))


# cell borders
for (x0, x1) in [(28, 338), (338, 648)]:
    for (y0, y1) in [(90, 353), (353, 620), (620, 895)]:
        shapes.append(dict(type="rect", xref="paper", yref="paper", x0=fx(x0), x1=fx(x1),
                           y0=fy(y1), y1=fy(y0), line=dict(color="#dcdcdc", width=1), layer="below"))
for (x0, x1) in [(676, 976), (976, 1276)]:
    for (y0, y1) in [(90, 355), (355, 620), (620, 895)]:
        shapes.append(dict(type="rect", xref="paper", yref="paper", x0=fx(x0), x1=fx(x1),
                           y0=fy(y1), y1=fy(y0), line=dict(color="#dcdcdc", width=1), layer="below"))

# outer rounded frame
path = (f"M {fx(9)},{fy(900)} L {fx(9)},{fy(21)} Q {fx(9)},{fy(10)} {fx(20)},{fy(10)} "
        f"L {fx(1280)},{fy(10)} Q {fx(1290)},{fy(10)} {fx(1290)},{fy(21)} L {fx(1290)},{fy(900)}")
shapes.append(dict(type="path", path=path, xref="paper", yref="paper",
                   line=dict(color="#2a2a2a", width=2)))

for i, p in enumerate(PANELS, start=1):
    xa = "x" if i == 1 else f"x{i}"
    ya = "y" if i == 1 else f"y{i}"
    xkey = "xaxis" if i == 1 else f"xaxis{i}"
    ykey = "yaxis" if i == 1 else f"yaxis{i}"
    l, r, t, b = p["plot"]
    ymin, ymax = -15, p["ymax"]
    zero_py = b - (p["axis_at"] - ymin) / (ymax - ymin) * (b - t)
    layout_axes[xkey] = dict(
        domain=[fx(l), fx(r)], anchor="free", position=fy(zero_py), range=[0, 300],
        tickvals=XTICKS, ticktext=[str(v) for v in XTICKS], showline=True, linecolor="black",
        linewidth=1, ticks="outside", ticklen=3, tickcolor="black", showgrid=False, zeroline=False,
        tickfont=dict(family=FONT, size=11, color="black"), fixedrange=True)
    layout_axes[ykey] = dict(
        domain=[fy(b), fy(t)], anchor=xa, range=[ymin, ymax], tickvals=YTICKS, ticktext=YTICKTEXT,
        showline=True, linecolor="black", linewidth=1, ticks="outside", ticklen=4, tickcolor="black",
        showgrid=False, zeroline=False, tickfont=dict(family=FONT, size=11, color="black"),
        fixedrange=True)
    # plot-area frame
    shapes.append(dict(type="rect", xref=f"{xa} domain", yref=f"{ya} domain", x0=0, x1=1, y0=0, y1=1,
                       line=dict(color="#c4c4c4", width=1), layer="below"))

    pre_mean, pre_sd = p["pre"]
    post_mean, post_sd = p["post"]
    pre_center = p.get("pre_center", pre_mean)
    cap_pre, cap_post = p["caps"]

    fig.add_trace(go.Scatter(
        x=X, y=pre_center, mode="markers", marker=dict(size=1, color="rgba(0,0,0,0)"),
        error_y=dict(type="data", symmetric=True, array=pre_sd, color=BLUE_BAR, thickness=1.5,
                     width=cap_pre), xaxis=xa, yaxis=ya, showlegend=False, hoverinfo="skip"))
    fig.add_trace(go.Scatter(
        x=X, y=post_mean, mode="markers", marker=dict(size=1, color="rgba(0,0,0,0)"),
        error_y=dict(type="data", symmetric=True, array=post_sd, color=PINK_BAR, thickness=1.5,
                     width=cap_post), xaxis=xa, yaxis=ya, showlegend=False, hoverinfo="skip"))
    fig.add_trace(go.Scatter(
        x=X, y=pre_mean, mode="lines", name="Pre",
        line=dict(color=NAVY, width=1 if p.get("pre_solid") else 1.3,
                  dash="solid" if p.get("pre_solid") else DOT),
        xaxis=xa, yaxis=ya, showlegend=False))
    fig.add_trace(go.Scatter(
        x=X, y=post_mean, mode="lines", name="Post",
        line=dict(color=MAGENTA, width=1.3, dash=DOT),
        xaxis=xa, yaxis=ya, showlegend=False))

    # texts
    ann(p["title"], p["t"][0], p["t"][1], size=11)
    ann("%systole", p["xl"][0], p["xl"][1], size=11)
    ann("Longitudinal strain (%)", p["yl"][0], p["yl"][1], size=11, angle=-90)

    # legend box
    lx0, ly0, lx1, ly1 = p["leg"]
    shapes.append(dict(type="rect", xref="paper", yref="paper", x0=fx(lx0), x1=fx(lx1),
                       y0=fy(ly1), y1=fy(ly0), line=dict(color="#d4d4d4", width=1),
                       fillcolor="white"))
    for k, (lab, col) in enumerate([("Pre", NAVY), ("Post", MAGENTA)]):
        yy = ly0 + 11.5 + 15 * k
        shapes.append(dict(type="line", xref="paper", yref="paper", x0=fx(lx0 + 11),
                           x1=fx(lx0 + 26), y0=fy(yy), y1=fy(yy), line=dict(color=col, width=1.6)))
        ann(lab, lx0 + 28, yy, size=11, xanchor="left")

# headers
ann("Responders", 337, 37, size=27, bold=True)
ann("Non-responders", 973, 37, size=27, bold=True)
ann("Septum", 181, 73, size=24, bold=True)
ann("Lateral", 495, 73, size=24, bold=True)
ann("Septum", 835, 73, size=24, bold=True)
ann("Lateral", 1136, 73, size=24, bold=True)

fig.update_layout(
    width=W, height=H, margin=dict(l=0, r=0, t=0, b=0), autosize=False,
    paper_bgcolor="white", plot_bgcolor="rgba(0,0,0,0)", showlegend=False,
    shapes=shapes, annotations=annotations, font=dict(family=FONT, size=11, color="black"),
    **layout_axes)

fig.write_html("out.html")
